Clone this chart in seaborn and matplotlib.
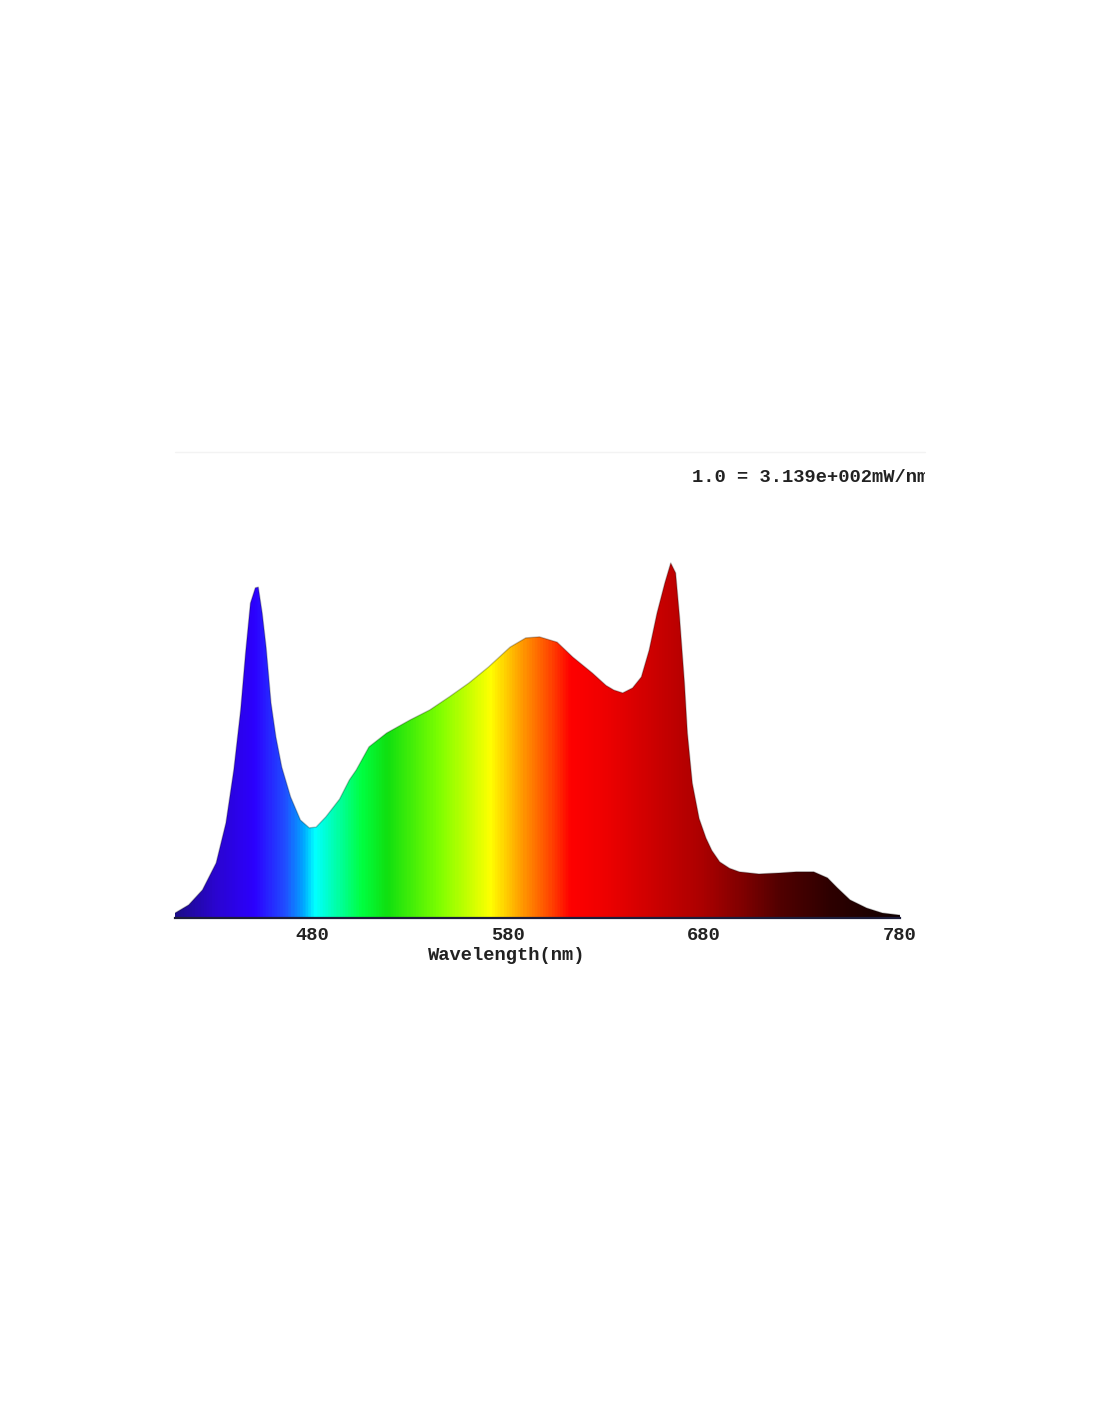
import numpy as np
import pandas as pd
import matplotlib
matplotlib.use("Agg")
import matplotlib.pyplot as plt
import seaborn as sns
from matplotlib.colors import LinearSegmentedColormap
from matplotlib.lines import Line2D
from matplotlib.transforms import Bbox, TransformedBbox

# spectrum (normalised, 1.0 = peak)
wavelength = [410, 417, 424, 431, 436, 440, 443.5, 446, 448.5, 451, 452.5, 454.5,
              456.5, 459, 461.5, 464.5, 469, 474, 478.5, 482, 487, 494, 499, 502.5,
              509, 518, 530, 540, 550, 560, 570, 581, 589, 596, 605, 613, 623, 630,
              634, 638.5, 643.5, 648, 652, 656, 660, 663, 665.5, 667.5, 670, 671.5,
              674, 677.5, 681, 684, 688, 693, 698, 708, 719, 727, 736, 743, 748,
              754.5, 763, 771, 780]
intensity = [0.014, 0.037, 0.079, 0.155, 0.268, 0.417, 0.586, 0.746, 0.887, 0.93, 0.932, 0.859,
             0.763, 0.606, 0.51, 0.425, 0.341, 0.276, 0.254, 0.256, 0.285, 0.335, 0.389, 0.417,
             0.482, 0.521, 0.558, 0.586, 0.623, 0.662, 0.707, 0.763, 0.789, 0.792, 0.777, 0.735, 0.69, 0.655,
             0.642, 0.634, 0.648, 0.679, 0.755, 0.859, 0.944, 1.0, 0.972, 0.848, 0.662, 0.521,
             0.38, 0.28, 0.225, 0.19, 0.158, 0.14, 0.13, 0.124, 0.127, 0.13, 0.13, 0.113, 0.085,
             0.051, 0.028, 0.014, 0.008]
tick_values = [480, 580, 680, 780]
scale_note = "1.0 = 3.139e+002mW/nm"

# colour of light along the wavelength axis
color_stops = [(410, "#1c0c8a"), (430, "#2a05d0"), (450, "#2c00ff"), (466, "#2050ff"),
               (475, "#00a8ff"), (481, "#00ffff"), (492, "#00ffa8"), (505, "#00ff40"),
               (518, "#10e010"), (545, "#80ff00"), (560, "#c8ff00"), (571, "#ffff00"),
               (581, "#ffc000"), (590, "#ff8800"), (600, "#ff5000"), (612, "#ff0000"),
               (630, "#ee0000"), (655, "#cc0000"), (680, "#aa0000"), (700, "#800000"),
               (720, "#500000"), (745, "#2e0000"), (780, "#120000")]

sns.set_style("white")
plt.rcParams['font.family'] = ['Liberation Mono', 'DejaVu Sans Mono']

fig = plt.figure(figsize=(11, 14.22), dpi=100)
ax = fig.add_axes([175 / 1100, 1 - 918 / 1422, 725 / 1100, 466 / 1422])

lo, hi = wavelength[0], wavelength[-1]
cmap = LinearSegmentedColormap.from_list(
    "spectrum", [((w - lo) / (hi - lo), c) for w, c in color_stops])

df = pd.DataFrame({"wavelength": wavelength, "intensity": intensity})
ytop = 466 / 355

poly = ax.fill_between(df["wavelength"], 0, df["intensity"], color="none", lw=0)
grad = np.linspace(0, 1, 800)[None, :]
img = ax.imshow(grad, extent=[lo, hi, 0, ytop], aspect="auto", cmap=cmap,
                origin="lower", interpolation="bilinear", zorder=1)
clip = poly.get_paths()[0]
img.set_clip_path(clip, transform=ax.transData)

sns.lineplot(data=df, x="wavelength", y="intensity", ax=ax, color="black",
             alpha=0.25, lw=1.0, zorder=2)

ax.set_xlim(lo, hi)
ax.set_ylim(0, ytop)
ax.set_xticks(tick_values)
ax.set_yticks([])
for s in ["top", "left", "right"]:
    ax.spines[s].set_visible(False)
ax.spines["bottom"].set_color("#1c1c3a")
ax.spines["bottom"].set_linewidth(1.6)
ax.tick_params(axis="x", direction="out", length=4, width=1, color="#333333",
               pad=2.5, labelsize=13.5, labelcolor="#222222")
for lab in ax.get_xticklabels():
    lab.set_fontweight("bold")
ax.set_xlabel("Wavelength(nm)", fontsize=13.5, fontweight="bold", color="#222222",
              labelpad=2)
ax.xaxis.set_label_coords((507 - 175) / 725, -0.063)
ax.set_ylabel("")

# faint frame line at the top of the cropped screenshot
fig.add_artist(Line2D([175 / 1100, 925 / 1100], [1 - 452 / 1422] * 2,
                      color="#f3f3f3", lw=1, transform=fig.transFigure))

t = fig.text(692 / 1100, 1 - 477 / 1422, scale_note, fontsize=13.5, fontweight="bold",
             color="#222222", ha="left", va="center")
t.set_clip_box(TransformedBbox(Bbox([[0, 0], [925 / 1100, 1]]), fig.transFigure))
t.set_clip_on(True)

fig.savefig("out.png", dpi=100, facecolor="white")
